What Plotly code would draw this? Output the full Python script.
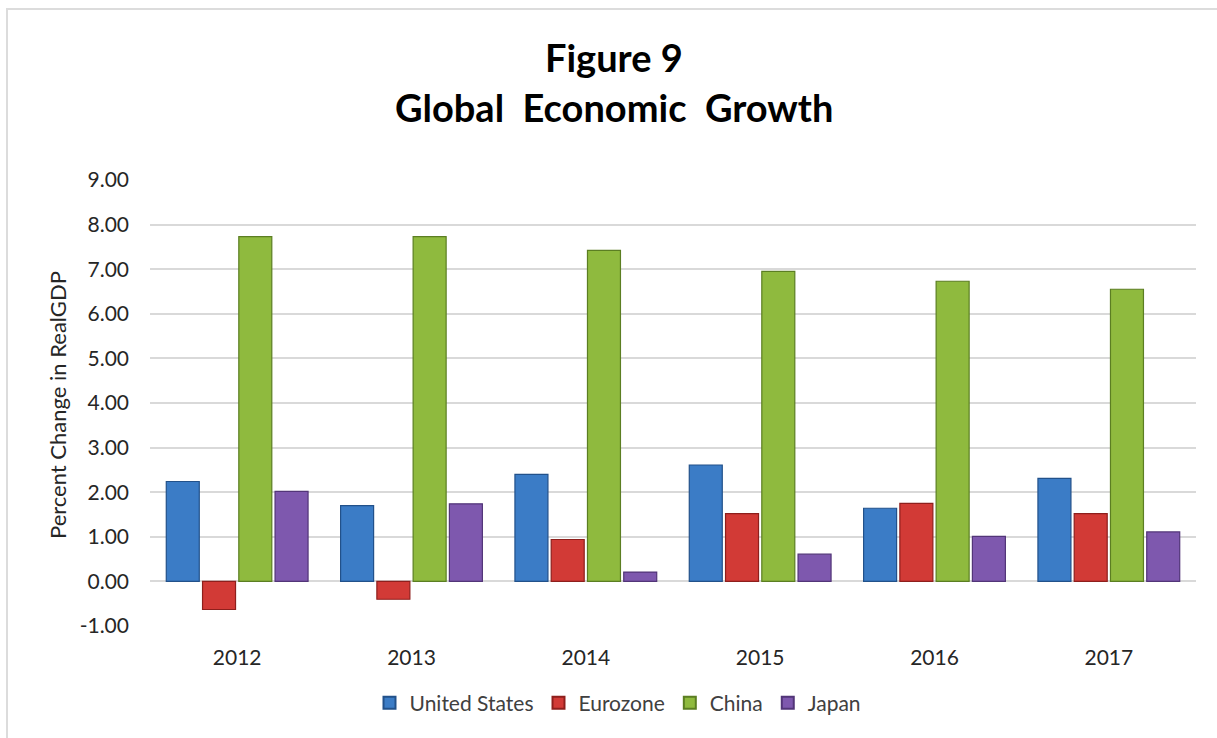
import plotly.graph_objects as go

years = ["2012", "2013", "2014", "2015", "2016", "2017"]
united_states = [2.24, 1.70, 2.40, 2.61, 1.64, 2.31]
eurozone = [-0.63, -0.40, 0.94, 1.52, 1.75, 1.52]
china = [7.73, 7.73, 7.42, 6.95, 6.73, 6.55]
japan = [2.02, 1.74, 0.21, 0.61, 1.01, 1.11]

y_ticks = [-1, 0, 1, 2, 3, 4, 5, 6, 7, 8, 9]
y_tick_labels = ["-1.00", "0.00", "1.00", "2.00", "3.00", "4.00", "5.00",
                 "6.00", "7.00", "8.00", "9.00"]

series = [
    ("United States", united_states, "#3B7CC6", "#22518A"),
    ("Eurozone", eurozone, "#D23A36", "#8E1F1C"),
    ("China", china, "#8FBA3E", "#5B7E22"),
    ("Japan", japan, "#7E58AE", "#523578"),
]

FONT = "Lato, 'Open Sans', sans-serif"

fig = go.Figure()
for name, vals, color, edge in series:
    fig.add_trace(go.Bar(
        x=years, y=vals, name=name,
        marker=dict(color=color, line=dict(color=edge, width=1.2)),
    ))

W, H = 1217, 738
L, R, T, B = 150, 21, 180, 112
pw, ph = W - L - R, H - T - B

def px_to_paper_x(px):
    return (px - L) / pw

def px_to_paper_y(py):
    return (H - B - py) / ph

fig.update_layout(
    width=W, height=H,
    margin=dict(l=L, r=R, t=T, b=B, pad=0),
    paper_bgcolor="white", plot_bgcolor="white",
    barmode="group", bargap=0.168, bargroupgap=0.09,
    font=dict(family=FONT, color="#404040"),
    showlegend=True,
    legend=dict(
        orientation="h", x=px_to_paper_x(618), xanchor="center",
        y=px_to_paper_y(703), yanchor="middle",
        font=dict(size=21, color="#404040", family=FONT),
        itemwidth=30, traceorder="normal", itemsizing="constant",
    ),
    xaxis=dict(
        showgrid=False, showline=False, zeroline=False, ticks="",
        tickfont=dict(size=21, color="#262626", family=FONT),
        ticklabelstandoff=17,
    ),
    yaxis=dict(
        range=[-1, 9], tickvals=y_ticks, ticktext=y_tick_labels,
        showgrid=True, gridcolor="#D9D9D9", gridwidth=1.5,
        zeroline=True, zerolinecolor="#D9D9D9", zerolinewidth=1.5,
        showline=False, ticks="",
        tickfont=dict(size=21, color="#262626", family=FONT),
        ticklabelstandoff=20,
    ),
    annotations=[
        dict(text="<b>Figure 9</b>", xref="paper", yref="paper",
             x=px_to_paper_x(614), y=px_to_paper_y(57), xanchor="center",
             yanchor="middle", showarrow=False,
             font=dict(size=38, color="#000000", family=FONT)),
        dict(text="<b>Global  Economic  Growth</b>", xref="paper", yref="paper",
             x=px_to_paper_x(614), y=px_to_paper_y(107), xanchor="center",
             yanchor="middle", showarrow=False,
             font=dict(size=38, color="#000000", family=FONT)),
        dict(text="Percent Change in RealGDP", xref="paper", yref="paper",
             x=px_to_paper_x(57), y=px_to_paper_y(405), xanchor="center",
             yanchor="middle", textangle=-90, showarrow=False,
             font=dict(size=22, color="#262626", family=FONT)),
    ],
    shapes=[
        dict(type="rect", xref="paper", yref="paper",
             x0=px_to_paper_x(7), x1=px_to_paper_x(1222),
             y0=px_to_paper_y(742), y1=px_to_paper_y(9),
             line=dict(color="#DCDCDC", width=2), fillcolor="rgba(0,0,0,0)",
             layer="below"),
    ],
)

fig.write_html("out.html")
